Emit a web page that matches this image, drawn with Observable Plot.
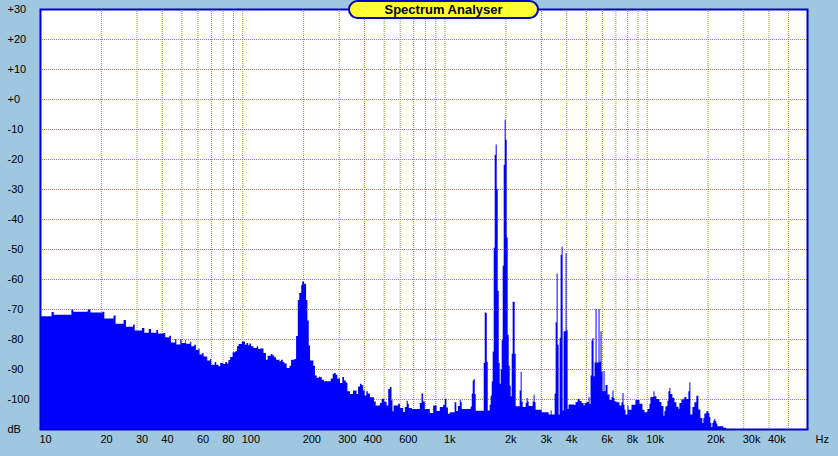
<!DOCTYPE html>
<html><head><meta charset="utf-8">
<script src="https://cdn.jsdelivr.net/npm/d3@7"></script>
<script src="https://cdn.jsdelivr.net/npm/@observablehq/plot@0.6"></script>
<style>
html,body{margin:0;padding:0;background:#9fc7df;}
#wrap{position:relative;width:838px;height:456px;overflow:hidden;background:#9fc7df;}
#title{position:absolute;left:348px;top:0;width:191px;height:19px;box-sizing:border-box;border:2px solid #0000cc;border-radius:10px;background:#ffff33;font:bold 13px "Liberation Sans",Arial,sans-serif;color:#000;text-align:center;line-height:15px;z-index:2;}
</style></head><body><div id="wrap"><div id="title">Spectrum Analyser</div></div>
<script>
// Spectrum readings (Hz, dB) — low band
const lowHz = [10, 11.4, 11.7, 14.3, 14.6, 17.2, 17.76, 20.4, 20.8, 23.1, 23.65, 25.9, 26.6, 28.85, 29.4, 31.9, 32.8, 34.5, 35.4, 37.6, 38.3, 40.8, 41.6, 43.6, 44.4, 46.6, 47.2, 49.4, 50.1, 52.3, 52.7, 55.3, 55.95, 57.9, 59.0, 60.8, 61.5, 63.4, 64.4, 67.1, 69.4, 70.2, 73.1, 74.3, 76.3, 77.8, 80.3, 82.4, 84.0, 85.4, 87.2, 89.6, 92.4, 94.2, 95.9, 99.5, 103.1, 105, 107, 108.6, 110.6, 113.6, 118, 119.9, 122.6, 127.3, 131, 133.5, 138.4, 141.2, 143.8, 146.9, 152.7, 155.6, 158.6, 161.5, 165.8, 171.2, 174.4, 181.1, 184.6, 188.2, 191.4, 195.7, 198, 202.1, 206.8, 209.9, 213.2, 216.4, 224.7, 229, 233.3, 239.6];
const lowDb = [-72.4, -71, -71.9, -70.2, -70.9, -70.2, -71.2, -70.9, -73.2, -72.2, -74.9, -73.7, -75.9, -75.2, -77.2, -76.3, -77.9, -76.7, -77.9, -77, -78.2, -78, -79.4, -78.9, -81.2, -80, -81.8, -80.2, -81.3, -80.3, -81.6, -80.9, -82.4, -81.9, -83.7, -83.2, -85.2, -84.7, -85.8, -87.2, -86.7, -88.6, -87.7, -88.6, -89.1, -88, -88.3, -87.7, -88.2, -87, -86, -84.4, -84.1, -82.4, -81.7, -80.8, -81.9, -81.3, -82.1, -81.5, -82.4, -83, -82.4, -83.3, -83.2, -84.7, -86.9, -85.6, -85, -85.5, -86.1, -86.9, -87.4, -86.9, -87.7, -88.2, -89.7, -88.9, -86.9, -86.7, -79, -67, -64.7, -62, -60.8, -61.6, -67, -73.8, -82.2, -87.2, -88.9, -92.2, -92.9, -92.6];

// mid band
const midHz = [242.4, 247.1, 253.7, 273.8, 280, 284.1, 289.8, 295.1, 304.3, 312.5, 318.6, 325, 331, 341, 353, 367.4, 373.8, 382, 389, 396, 403, 410.7, 417.5, 428, 448, 457, 479.5, 489, 504, 517, 527, 537, 547, 553, 560, 590, 602, 625, 637, 650, 658, 666, 690, 755, 770, 784, 799, 846, 879, 914, 948, 985, 1003, 1022, 1040, 1062, 1122, 1144, 1165, 1190];
const midDb = [-92.7, -93.6, -94.1, -93.2, -91.6, -91.3, -91.9, -93.2, -94.7, -92.7, -93.8, -94.5, -97.4, -98.3, -97.2, -98.3, -95.8, -94.9, -95.4, -97.2, -98.8, -97.4, -98.2, -99.4, -100.8, -102.2, -101.3, -99.9, -100.9, -102.2, -96.7, -96, -100.4, -104.1, -102.2, -101.6, -103, -104.3, -102.7, -100.6, -101.6, -103, -103.3, -101.3, -98.2, -100.8, -103.3, -104.7, -102.2, -104, -102.7, -101.9, -99.9, -102.8, -104.9, -104.4, -101.1, -104, -102.3, -100.3];

// high band
const highHz = [1204, 1217, 1348, 1364, 1379, 1395, 1411, 1427, 1563, 1581, 1599, 1618, 1636, 1673, 1692, 1712, 1731, 1751, 1771, 1791, 1812, 1833, 1854, 1875, 1896, 1918, 1940, 1962, 1984, 2007, 2030, 2053, 2077, 2101, 2125, 2149, 2173, 2198, 2223, 2249, 2353, 2380, 2407, 2435, 2519, 2548, 2577, 2607, 2727, 2758, 2789, 2821, 3022, 3273, 3348, 3386, 3504, 3544, 3585, 3626, 3667, 3709, 3751, 3794, 3837, 3881, 3925, 3970, 4015, 4061, 4108, 4348, 4448, 4550, 4655, 4762, 4871, 4927, 5040, 5156, 5215, 5275, 5335, 5396, 5458, 5520, 5583, 5647, 5777, 5843, 5910, 5977, 6046, 6115, 6185, 6256, 6399, 6546, 6696, 6773, 6850, 6928, 7088, 7333, 7501, 7587, 7674, 7762, 7851, 8032, 8124, 8405, 8795, 9205, 9523, 9742, 10082, 10313, 10431, 10793, 10916, 11167, 11555, 11820, 12092, 12230, 12369, 12654, 12799, 12945, 13093, 13393, 13701, 14016, 14338, 14503, 14836, 15177, 15350, 15703, 16065, 16249, 16435, 16813, 17200, 17596, 18000, 18414, 18838, 19053, 19271, 19715, 20168, 20395, 20628, 20863, 21101, 21343, 21587, 21834, 22083, 22336, 23913, 24700, 62000];
const highDb = [-101.1, -103.3, -102.5, -98.2, -93.8, -93.3, -98.4, -103.9, -88, -71.1, -71.3, -87.6, -103.8, -101.9, -98.9, -94.2, -84.2, -49.6, -18.6, -15.2, -30, -63.9, -88, -94.9, -90.2, -80.4, -55.6, -21.9, -6.9, -13.6, -46.2, -78.6, -88.9, -95.6, -99.1, -84.9, -67.6, -67.6, -84.9, -102.4, -97.2, -90.9, -100.8, -102.7, -101.3, -99.7, -100.8, -102.3, -100.8, -98.6, -101.1, -103.6, -104.4, -105.2, -103.8, -105.2, -98.2, -74.4, -58.2, -81.9, -105.2, -79.6, -51.9, -49.2, -103.8, -77.4, -77.4, -51.3, -77.1, -103.3, -101.8, -101.9, -101, -100, -100.7, -101.3, -102.2, -101.3, -101, -99.3, -101.6, -92.2, -80.4, -79.7, -92.4, -87.8, -70, -87.8, -70, -87.6, -77.4, -90.9, -97.4, -90.6, -97.4, -95.3, -98.5, -100.3, -99.3, -97.2, -99.7, -100.8, -101.1, -102.2, -101.1, -98, -101.9, -103.6, -105.2, -102.2, -103.6, -101.9, -100.3, -101.6, -103.6, -104.4, -103.3, -101.6, -99.3, -97.4, -99.1, -100, -101, -102.3, -105.6, -104, -102.4, -100.6, -97.4, -96.3, -98.3, -99.6, -101.1, -102.6, -103.3, -101.3, -100.2, -99.9, -99.3, -100, -97.4, -94.4, -105.2, -102.7, -101.1, -98.9, -103.5, -106.3, -108, -106.3, -104.8, -104.1, -104.7, -106, -108, -109.3, -108, -107.2, -106.7, -107.4, -108.2, -109.1, -109.6, -110, -110];

// Axis ticks and labels
const yTicks = [30, 20, 10, 0, -10, -20, -30, -40, -50, -60, -70, -80, -90, -100, -110];
const yLabels = ["+30", "+20", "+10", "+0", "-10", "-20", "-30", "-40", "-50", "-60", "-70", "-80", "-90", "-100", "dB"];
const xTicks = [10, 20, 30, 40, 60, 80, 100, 200, 300, 400, 600, 1000, 2000, 3000, 4000, 6000, 8000, 10000, 20000, 30000, 40000];
const xLabels = ["10", "20", "30", "40", "60", "80", "100", "200", "300", "400", "600", "1k", "2k", "3k", "4k", "6k", "8k", "10k", "20k", "30k", "40k"];
const xGrid = [10, 20, 30, 40, 50, 60, 70, 80, 90, 100, 200, 300, 400, 500, 600, 700, 800, 900, 1000, 2000, 3000, 4000, 5000, 6000, 7000, 8000, 9000, 10000, 20000, 30000, 40000, 50000];
const yGrid = [20, 10, 0, -10, -20, -30, -40, -50, -60, -70, -80, -90, -100];
const xDomain = [10, 62000];
const yDomain = [-110, 30];

const spectrum = [
  ...lowHz.map((f, i) => ({f, db: lowDb[i]})),
  ...midHz.map((f, i) => ({f, db: midDb[i]})),
  ...highHz.map((f, i) => ({f, db: highDb[i]}))
];

const grid = {stroke: "#a0a000", strokeDasharray: "1,1", strokeWidth: 1, strokeOpacity: 1};

const chart = Plot.plot({
  width: 838, height: 456,
  marginLeft: 40, marginRight: 31, marginTop: 9, marginBottom: 27,
  style: {background: "transparent", fontFamily: "'Liberation Sans', Arial, sans-serif", fontSize: "11px", color: "#000", overflow: "visible"},
  x: {type: "log", domain: xDomain, axis: null},
  y: {domain: yDomain, axis: null},
  marks: [
    Plot.frame({fill: "white"}),
    Plot.ruleX(xGrid, grid),
    Plot.ruleY(yGrid, grid),
    Plot.areaY(spectrum, {x: "f", y1: yDomain[0], y2: "db", curve: "step-after", fill: "#0000ff"}),
    Plot.frame({stroke: "#0000cc", strokeWidth: 2}),
    Plot.text(yTicks, {y: d => d, text: (d, i) => yLabels[i], frameAnchor: "left", dx: -33, textAnchor: "start", fill: "#000"}),
    Plot.text(xTicks, {x: d => d, text: (d, i) => xLabels[i], frameAnchor: "bottom", dy: 13, dx: -1, textAnchor: "start", fill: "#000"}),
    Plot.text(["Hz"], {text: d => d, frameAnchor: "bottom-right", dx: 8, dy: 13, textAnchor: "start", fill: "#000"})
  ]
});
document.getElementById("wrap").appendChild(chart);
chart.style.position = "absolute";
chart.style.left = "0";
chart.style.top = "0";
</script>
</body></html>
